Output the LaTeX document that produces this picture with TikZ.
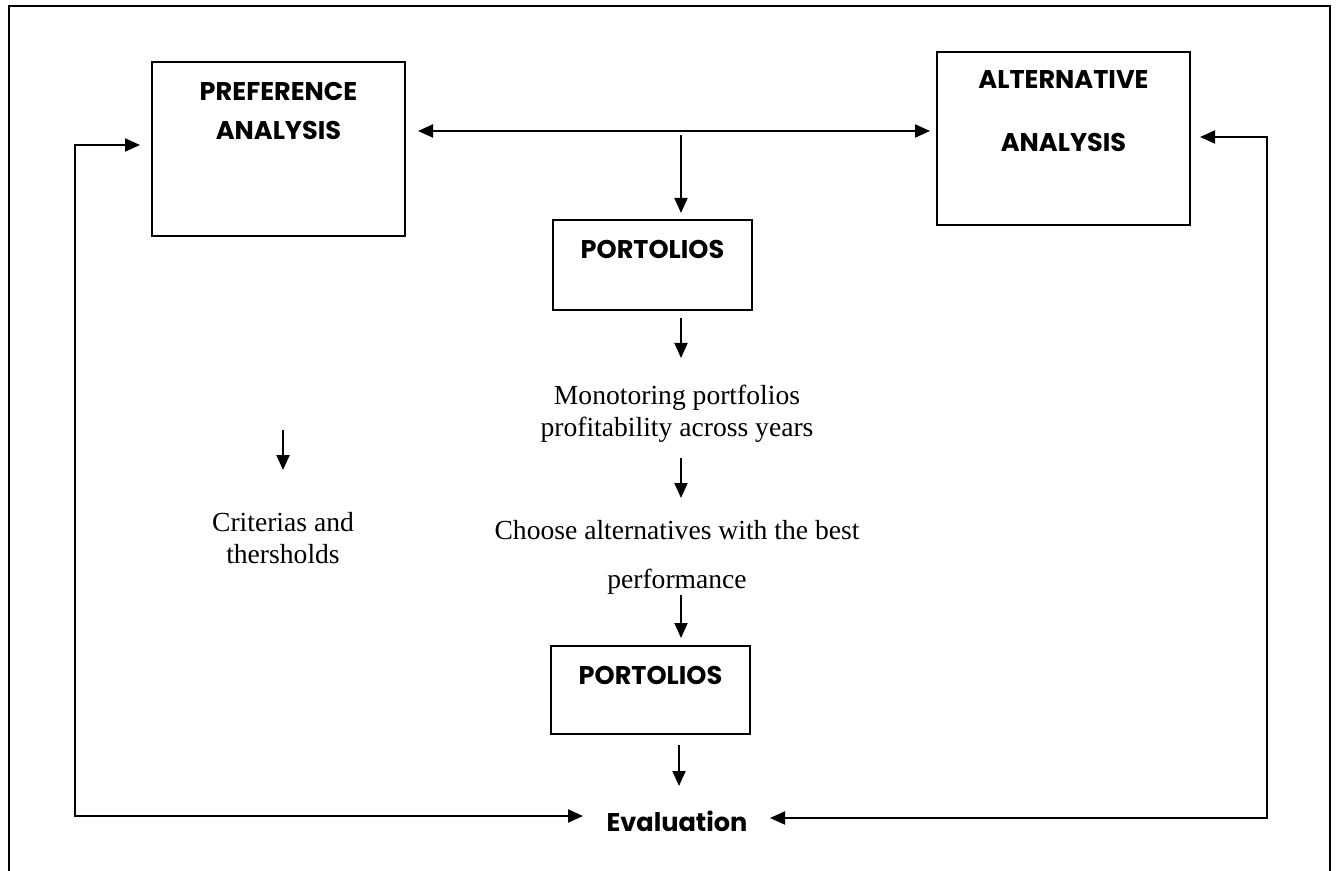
\documentclass[tikz,border=0pt]{standalone}
\usepackage{fontspec}
\setmainfont{Liberation Serif}
\newfontfamily\gothicfont{Poppins}
\usetikzlibrary{arrows.meta,positioning}
\tikzset{
	blockbox/.style={draw, line width=1pt, inner sep=0pt},
	boxlabel/.style={font=\gothicfont\bfseries\fontsize{12.8}{19.5}\selectfont, align=center, inner sep=0pt},
	plaintext/.style={font=\fontsize{13.8}{16}\selectfont, align=center, inner sep=0pt},
	flow/.style={-{Triangle[length=7.5pt,width=6.5pt]}, line width=1pt},
	twoflow/.style={{Triangle[length=7.5pt,width=6.5pt]}-{Triangle[length=7.5pt,width=6.5pt]}, line width=1pt}
}
\begin{document}
\begin{tikzpicture}[x=0.5pt,y=-0.5pt]
	\useasboundingbox (0,0) rectangle (1338,871);
	% outer frame, open at the bottom
	\draw[line width=1pt] (9,871) -- (9,6) -- (1330,6) -- (1330,871);
	% boxes
	\node[blockbox, minimum width=126.5pt, minimum height=87pt] (pref) at (278.5,149) {};
	\node[blockbox, minimum width=126.5pt, minimum height=86.5pt] (alt) at (1063.5,138.5) {};
	\node[blockbox, minimum width=99.5pt, minimum height=45pt] (port1) at (652.5,265) {};
	\node[blockbox, minimum width=99.5pt, minimum height=44pt] (port2) at (650.5,690) {};
	\node[boxlabel] (preflabel) at (278.5,111) {PREFERENCE\\ANALYSIS};
	\node[boxlabel, font=\gothicfont\bfseries\fontsize{12.8}{31.5}\selectfont] (altlabel) at (1063.5,111) {ALTERNATIVE\\ANALYSIS};
	\node[boxlabel] (port1label) at (652.5,249) {PORTOLIOS};
	\node[boxlabel] (port2label) at (650.5,675) {PORTOLIOS};
	\node[boxlabel] (eval) at (677,821) {Evaluation};
	% free text
	\node[plaintext] (monitor) at (677,414) {Monotoring portfolios\\profitability across years};
	\node[plaintext, font=\fontsize{13.8}{24.5}\selectfont] (choose) at (677,557) {Choose alternatives with the best\\performance};
	\node[plaintext] (criteria) at (283,538) {Criterias and\\thersholds};
	% arrow ends
	\coordinate (dl) at (418,131);
	\coordinate (dr) at (930,131);
	\coordinate (c1) at (681,135);
	\coordinate (c2) at (681,213);
	\coordinate (c3) at (681,318);
	\coordinate (c4) at (681,358);
	\coordinate (c5) at (681,458);
	\coordinate (c6) at (681,498);
	\coordinate (c7) at (681,595);
	\coordinate (c8) at (681,638);
	\coordinate (c9) at (679,745);
	\coordinate (c10) at (679,786);
	\coordinate (k1) at (283,430);
	\coordinate (k2) at (283,470);
	\coordinate (ltop) at (140,145);
	\coordinate (lbot) at (583,816);
	\coordinate (rtop) at (1200,137);
	\coordinate (rbot) at (770,818);
	% connectors
	\draw[twoflow] (dl) -- (dr);
	\draw[flow] (c1) -- (c2);
	\draw[flow] (c3) -- (c4);
	\draw[flow] (c5) -- (c6);
	\draw[flow] (c7) -- (c8);
	\draw[flow] (c9) -- (c10);
	\draw[flow] (k1) -- (k2);
	\draw[twoflow] (lbot) -- (75,816) -- (75,145) -- (ltop);
	\draw[twoflow] (rbot) -- (1267,818) -- (1267,137) -- (rtop);
\end{tikzpicture}
\end{document}
